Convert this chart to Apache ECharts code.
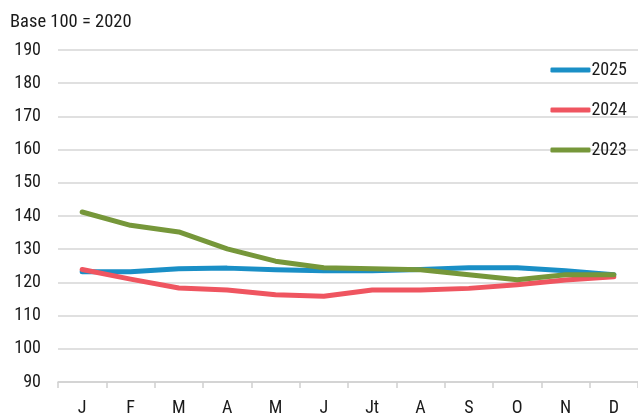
<!DOCTYPE html>
<html><head><meta charset="utf-8">
<script src="https://cdn.jsdelivr.net/npm/echarts@6/dist/echarts.min.js"></script>
<style>html,body{margin:0;padding:0;background:#fff}#c{width:638px;height:417px}</style>
</head><body><div id="c"></div>
<script>
const months = ['J','F','M','A','M','J','Jt','A','S','O','N','D'];
const s2025 = [123.2,123.2,124.1,124.3,123.8,123.5,123.5,123.9,124.4,124.4,123.5,122.3];
const s2024 = [123.9,121.0,118.3,117.7,116.3,115.8,117.7,117.7,118.2,119.3,120.7,121.7];
const s2023 = [141.2,137.2,135.2,130.1,126.4,124.4,124.1,123.8,122.3,120.8,122.3,122.3];
const yTicks = [90,190,10]; // min, max, interval
const font = "'Liberation Sans Narrow','Roboto Condensed',Roboto,sans-serif";
const chart = echarts.init(document.getElementById('c'));
const mk = (name, data, color) => ({
  name, type:'line', data, symbol:'none', smooth:false,
  lineStyle:{width:5, color, cap:'round', join:'round'}, itemStyle:{color}
});
chart.setOption({
  animation:false,
  title:{text:'Base 100 = 2020', left:5, top:8, textStyle:{fontFamily:font, fontSize:18.5, fontWeight:'normal', color:'#1a1a1a'}},
  legend:{orient:'vertical', right:6, top:56, itemGap:22, itemWidth:40, itemHeight:5, icon:'roundRect',
    textStyle:{fontFamily:font, fontSize:18, color:'#1a1a1a', padding:[0,0,0,-4]},
    data:['2025','2024','2023']},
  grid:{left:58, right:0, top:50, bottom:35},
  xAxis:{type:'category', data:months, boundaryGap:true,
    axisLine:{lineStyle:{color:'#d0d0d0', width:1.5}},
    axisTick:{show:true, length:6, lineStyle:{color:'#d0d0d0', width:1.5}},
    axisLabel:{fontFamily:font, fontSize:18, color:'#1a1a1a', margin:17}},
  yAxis:{type:'value', min:yTicks[0], max:yTicks[1], interval:yTicks[2],
    axisLine:{show:false}, axisTick:{show:false},
    splitLine:{lineStyle:{color:'#d6d6d6', width:1.5}},
    axisLabel:{fontFamily:font, fontSize:18, color:'#1a1a1a', margin:17}},
  series:[mk('2025',s2025,'#1a8fc6'), mk('2024',s2024,'#ef5560'), mk('2023',s2023,'#76973a')]
});
</script></body></html>
